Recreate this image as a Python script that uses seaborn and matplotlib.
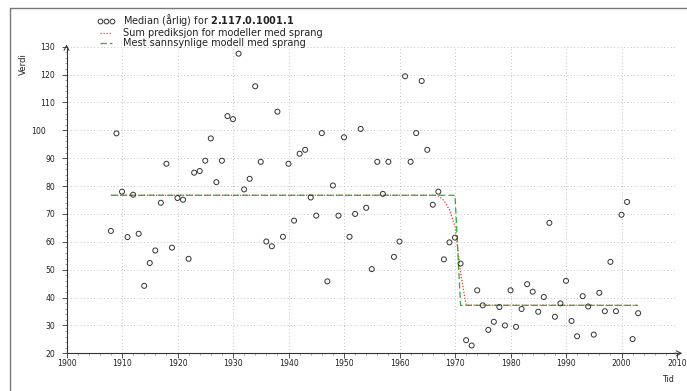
import matplotlib
matplotlib.use("Agg")
import matplotlib.pyplot as plt
import seaborn as sns
import pandas as pd
from matplotlib.lines import Line2D
from matplotlib.ticker import MultipleLocator

# ---------------- data ----------------
years = list(range(1908, 2004))
values = [63.9, 98.9, 78.0, 61.7, 76.9, 62.9, 44.2, 52.4, 56.9, 74.0,
          88.0, 57.9, 75.7, 75.1, 53.9, 84.8, 85.4, 89.1, 97.1, 81.4,
          89.1, 105.1, 104.0, 127.5, 78.8, 82.6, 115.8, 88.7, 60.1, 58.4,
          106.7, 61.8, 88.0, 67.6, 91.6, 93.0, 75.9, 69.4, 99.0, 45.8,
          80.2, 69.4, 97.5, 61.8, 70.0, 100.5, 72.2, 50.2, 88.7, 77.2,
          88.7, 54.6, 60.1, 119.4, 88.7, 99.0, 117.7, 93.0, 73.3, 78.0,
          53.7, 59.8, 61.5, 52.2, 24.7, 22.8, 42.6, 37.2, 28.4, 31.3,
          36.6, 30.0, 42.6, 29.5, 35.9, 44.8, 42.1, 34.9, 40.2, 66.8,
          33.1, 37.9, 46.0, 31.6, 26.1, 40.5, 36.8, 26.7, 41.7, 35.1,
          52.8, 35.1, 69.7, 74.3, 25.1, 34.4]

model_years = [1908, 1970, 1971, 2003]
model_values = [76.7, 76.7, 37.2, 37.2]

sum_years = [1908, 1966, 1967, 1968, 1969, 1970, 1971, 1972, 2003]
sum_values = [76.7, 76.7, 76.5, 74.8, 71.5, 65.5, 49.0, 37.3, 37.2]

xticks = list(range(1900, 2011, 10))
yticks = list(range(20, 131, 10))

label_points = r"Median (årlig) for $\mathbf{2.117.0.1001.1}$"
label_sum = "Sum prediksjon for modeller med sprang"
label_model = "Mest sannsynlige modell med sprang"

# ---------------- style ----------------
sns.set_style("ticks")
plt.rcParams["font.family"] = ["DejaVu Sans"]
plt.rcParams["mathtext.fontset"] = "dejavusans"

W, H = 687, 391
fig = plt.figure(figsize=(W / 100, H / 100), dpi=100)
x0, x1 = 66.5, 677.0
y130, y20 = 46.7, 353.3
ax = fig.add_axes([x0 / W, 1 - y20 / H, (x1 - x0) / W, (y20 - y130) / H])

red = "#e2412f"
green = "#2fae2f"

sns.lineplot(x=sum_years, y=sum_values, ax=ax, estimator=None, sort=False,
             color=red, lw=0.9, linestyle=(0, (1, 1.4)), zorder=3)
sns.lineplot(x=model_years, y=model_values, ax=ax, estimator=None, sort=False,
             color=green, lw=0.9, linestyle=(0, (5, 2.5)), zorder=4)
df = pd.DataFrame({"Tid": years, "Verdi": values})
sns.scatterplot(data=df, x="Tid", y="Verdi", ax=ax, marker="o", s=13,
                facecolors="none", edgecolors="#333333", linewidth=0.7,
                zorder=5)

ax.set_xlim(1900, 2010)
ax.set_ylim(20, 130)
ax.set_xticks(xticks)
ax.set_yticks(yticks)
ax.xaxis.set_minor_locator(MultipleLocator(2))
ax.yaxis.set_minor_locator(MultipleLocator(2))
ax.set_xlabel("")
ax.set_ylabel("")

ax.grid(True, which="major", linestyle=(0, (1, 3)), color="#b0b0b0", lw=0.6)
ax.set_axisbelow(True)

for s in ["top", "right"]:
    ax.spines[s].set_visible(False)
for s in ["left", "bottom"]:
    ax.spines[s].set_color("#333333")
    ax.spines[s].set_linewidth(0.8)
    ax.spines[s].set_clip_on(False)

ax.tick_params(axis="both", which="major", labelsize=5.6, length=3.6,
               width=0.6, color="#333333", labelcolor="#222222")
ax.tick_params(axis="y", which="major", pad=4.6)
ax.tick_params(axis="x", which="major", pad=0.8)
ax.tick_params(axis="both", which="minor", length=1.2, width=0.4,
               color="#555555")

# special longer tick at 100
t100 = ax.yaxis.get_major_ticks()[yticks.index(100)]
t100.tick1line.set_marker("_")
t100.tick1line.set_markersize(9.6)
t100.set_pad(11.5)

# arrows at the axis ends
ax.annotate("", xy=(0, 1 + 5 / (y20 - y130)), xytext=(0, 0.99),
            xycoords="axes fraction", textcoords="axes fraction",
            arrowprops=dict(arrowstyle="->,head_length=0.35,head_width=0.18",
                            lw=0.7, color="#333333"), annotation_clip=False)
ax.annotate("", xy=(1 + 8 / (x1 - x0), 0), xytext=(0.99, 0),
            xycoords="axes fraction", textcoords="axes fraction",
            arrowprops=dict(arrowstyle="->,head_length=0.35,head_width=0.18",
                            lw=0.7, color="#333333"), annotation_clip=False)

# axis titles
fig.text(23 / W, 1 - 64 / H, "Verdi", rotation=90, ha="center", va="center",
         fontsize=6.2, color="#222222")
fig.text(668 / W, 1 - 380 / H, "Tid", ha="center", va="center",
         fontsize=5.8, color="#222222")

# legend
handles = [
    Line2D([], [], marker="o", ls="none", mfc="none", mec="#333333",
           ms=3.4, mew=0.7),
    Line2D([], [], color=red, lw=0.9, ls=(0, (1, 1.4))),
    Line2D([], [], color=green, lw=0.9, ls=(0, (5, 2.5))),
]
leg = fig.legend(handles, [label_points, label_sum, label_model],
                 loc="upper left", bbox_to_anchor=(97 / W, 1 - 12 / H),
                 frameon=False, fontsize=7.0, numpoints=3,
                 handlelength=1.8, handletextpad=0.85, labelspacing=0.0,
                 borderpad=0, borderaxespad=0)
for txt in leg.get_texts():
    txt.set_color("#222222")

# outer frame (left and top edges)
fig.add_artist(Line2D([9.5 / W, 9.5 / W], [0, 1 - 7.5 / H],
                      transform=fig.transFigure, color="#777777", lw=1.0))
fig.add_artist(Line2D([9.5 / W, 1], [1 - 7.5 / H, 1 - 7.5 / H],
                      transform=fig.transFigure, color="#777777", lw=1.0))

fig.savefig("out.png", dpi=100, facecolor="white")
